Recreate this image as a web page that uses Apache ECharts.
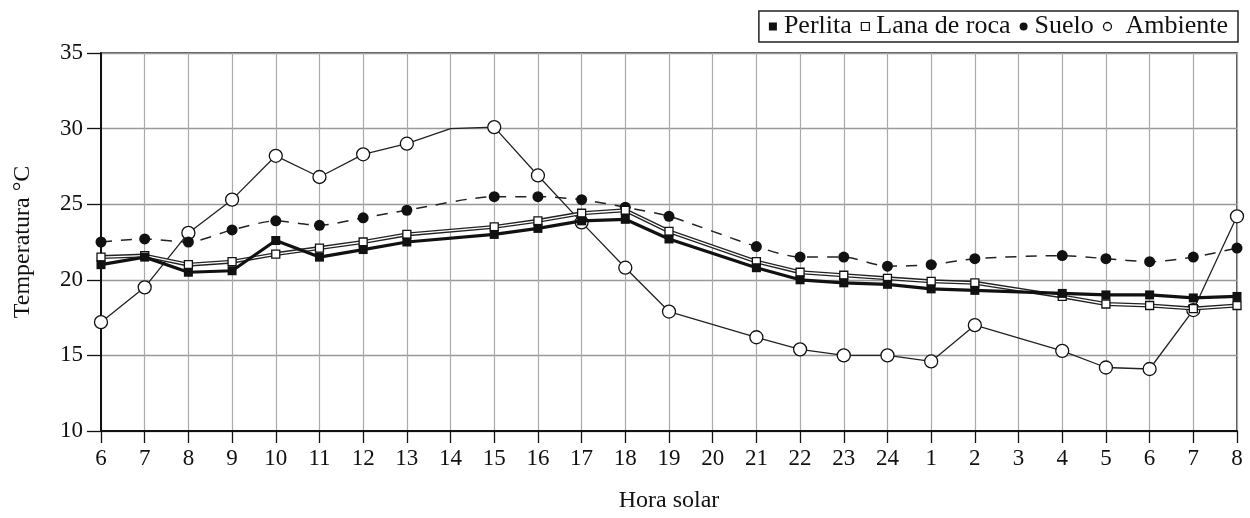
<!DOCTYPE html>
<html>
<head>
<meta charset="utf-8">
<script src="https://cdn.jsdelivr.net/npm/echarts@6/dist/echarts.min.js"></script>
<style>
  html, body { margin: 0; padding: 0; background: #fff; }
  #chart { width: 1250px; height: 518px; }
</style>
</head>
<body>
<div id="chart"></div>
<script>
// Hora solar: from 6 h of one day to 8 h of the next
const horas = ['6','7','8','9','10','11','12','13','14','15','16','17','18','19','20',
               '21','22','23','24','1','2','3','4','5','6','7','8'];

// Temperatures (°C); null = no reading at that hour
const perlita = [21.0, 21.5, 20.5, 20.6, 22.6, 21.5, 22.0, 22.5, null, 23.0, 23.4, 23.9, 24.0, 22.7, null,
                 20.8, 20.0, 19.8, 19.7, 19.4, 19.3, null, 19.1, 19.0, 19.0, 18.8, 18.9];
const lanaDeRoca = [21.5, 21.6, 21.0, 21.2, 21.7, 22.1, 22.5, 23.0, null, 23.5, 23.9, 24.4, 24.6, 23.2, null,
                    21.2, 20.5, 20.3, 20.1, 19.9, 19.8, null, 18.9, 18.4, 18.3, 18.1, 18.3];
const suelo = [22.5, 22.7, 22.5, 23.3, 23.9, 23.6, 24.1, 24.6, null, 25.5, 25.5, 25.3, 24.8, 24.2, null,
               22.2, 21.5, 21.5, 20.9, 21.0, 21.4, null, 21.6, 21.4, 21.2, 21.5, 22.1];
const ambiente = [17.2, 19.5, 23.1, 25.3, 28.2, 26.8, 28.3, 29.0, 30.0, 30.1, 26.9, 23.8, 20.8, 17.9, null,
                  16.2, 15.4, 15.0, 15.0, 14.6, 17.0, null, 15.3, 14.2, 14.1, 18.0, 24.2];
// the 14 h value of Ambiente is a bend of the line without a marker
const ambienteSinMarca = [8];

const serif = 'Liberation Serif, Times New Roman, serif';

const chart = echarts.init(document.getElementById('chart'));
chart.setOption({
  animation: false,
  backgroundColor: '#fff',
  grid: {
    left: 101, right: 13, top: 53, bottom: 83,
    show: true, borderColor: '#222', borderWidth: 1.5
  },
  legend: {
    right: 12, top: 11,
    orient: 'horizontal',
    borderColor: '#222', borderWidth: 1.5,
    padding: [2, 10, 2, 10],
    itemGap: 9,
    itemWidth: 8, itemHeight: 8,
    textStyle: { fontFamily: serif, fontSize: 26, lineHeight: 27, color: '#111', padding: [0, 0, 0, 2] },
    data: [
      { name: 'Perlita', icon: 'rect', itemStyle: { color: '#111', borderWidth: 0 } },
      { name: 'Lana de roca', icon: 'rect', itemStyle: { color: '#fff', borderColor: '#111', borderWidth: 1.2 } },
      { name: 'Suelo', icon: 'circle', itemStyle: { color: '#111', borderWidth: 0 } },
      { name: 'Ambiente', icon: 'circle', itemStyle: { color: '#fff', borderColor: '#111', borderWidth: 1.3 },
        textStyle: { padding: [0, 0, 0, 9] } }
    ]
  },
  xAxis: {
    type: 'category',
    data: horas,
    boundaryGap: false,
    name: 'Hora solar',
    nameLocation: 'middle',
    nameGap: 58,
    nameTextStyle: { fontFamily: serif, fontSize: 24, color: '#111' },
    axisLine: { lineStyle: { color: '#111', width: 2 } },
    axisTick: { show: true, length: 12, lineStyle: { color: '#111', width: 1.3 } },
    axisLabel: { fontFamily: serif, fontSize: 23, color: '#111', margin: 16, interval: 0 },
    splitLine: { show: true, lineStyle: { color: '#aaa', width: 1.2 } }
  },
  yAxis: {
    type: 'value',
    min: 10, max: 35, interval: 5,
    name: 'Temperatura °C',
    nameLocation: 'middle',
    nameGap: 66,
    nameRotate: 90,
    nameTextStyle: { fontFamily: serif, fontSize: 24, color: '#111' },
    axisLine: { show: true, lineStyle: { color: '#111', width: 2 } },
    axisTick: { show: true, length: 14, lineStyle: { color: '#111', width: 1.3 } },
    axisLabel: { fontFamily: serif, fontSize: 23, color: '#111', margin: 18 },
    splitLine: { show: true, lineStyle: { color: '#999', width: 1.3 } }
  },
  series: [
    {
      name: 'Ambiente', type: 'line', data: ambiente.map((v, i) =>
        ambienteSinMarca.includes(i) ? { value: v, symbol: 'none' } : v),
      connectNulls: true,
      symbol: 'circle', symbolSize: 13,
      itemStyle: { color: '#fff', borderColor: '#111', borderWidth: 1.3 },
      lineStyle: { color: '#222', width: 1.3 },
      z: 2
    },
    {
      name: 'Suelo', type: 'line', data: suelo, connectNulls: true, smooth: 0.25,
      symbol: 'circle', symbolSize: 11,
      itemStyle: { color: '#111', borderWidth: 0 },
      lineStyle: { color: '#222', width: 1.5, type: [11, 9] },
      z: 3
    },
    {
      // outer stroke of the hollow Lana de roca line
      name: 'Lana de roca', type: 'line', data: lanaDeRoca, connectNulls: true,
      symbol: 'none',
      lineStyle: { color: '#222', width: 4 },
      z: 4
    },
    {
      name: 'Lana de roca', type: 'line', data: lanaDeRoca, connectNulls: true,
      symbol: 'rect', symbolSize: 8,
      itemStyle: { color: '#fff', borderColor: '#111', borderWidth: 1.3 },
      lineStyle: { color: '#fff', width: 1.3 },
      z: 5
    },
    {
      name: 'Perlita', type: 'line', data: perlita, connectNulls: true,
      symbol: 'rect', symbolSize: 9,
      itemStyle: { color: '#111', borderWidth: 0 },
      lineStyle: { color: '#111', width: 3.2 },
      z: 6
    }
  ]
});
</script>
</body>
</html>
